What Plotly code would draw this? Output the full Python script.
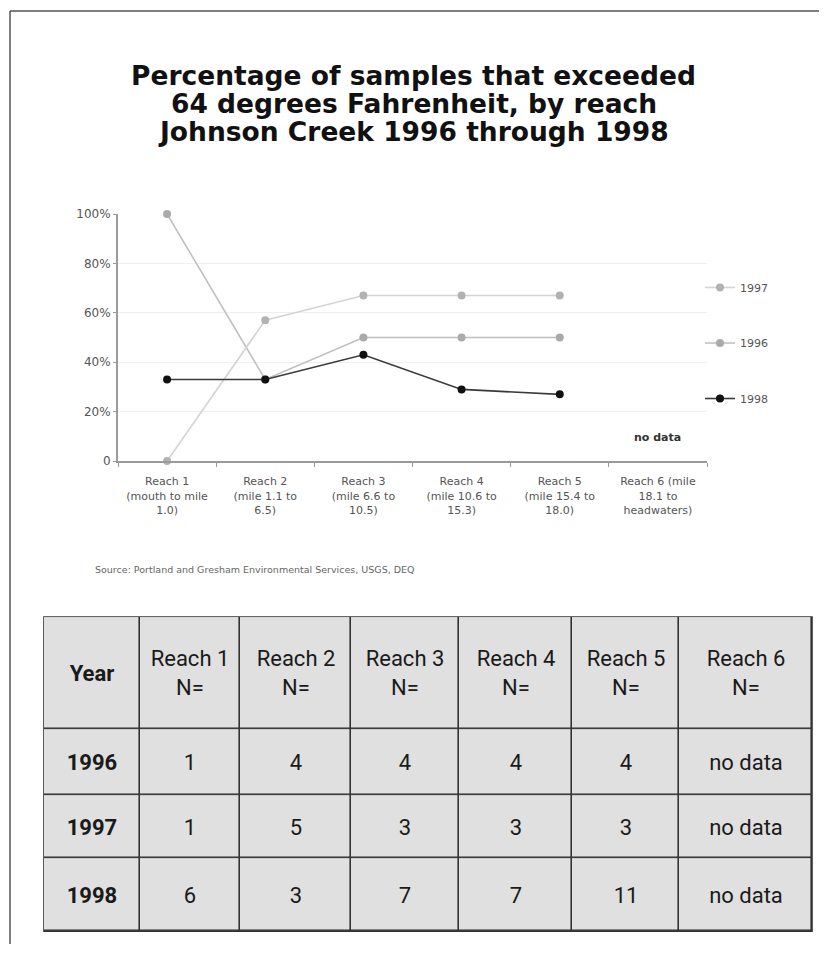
import plotly.graph_objects as go

# The page body has an 8px default margin, so the figure is sized to fit the
# 827x959 window and all positions below are given in window pixels.
WIN_W, WIN_H = 827, 959
OFF = 8
W, H = WIN_W - 2 * OFF, WIN_H - 2 * OFF
# measured vertical calibration of the captured page (scale, offset)
V_SCALE, V_SHIFT = 0.985, 6.15

# ---------------- data ----------------
reaches = [
    "Reach 1<br>(mouth to mile<br>1.0)",
    "Reach 2<br>(mile 1.1 to<br>6.5)",
    "Reach 3<br>(mile 6.6 to<br>10.5)",
    "Reach 4<br>(mile 10.6 to<br>15.3)",
    "Reach 5<br>(mile 15.4 to<br>18.0)",
    "Reach 6 (mile<br>18.1 to<br>headwaters)",
]
pct_1996 = [100, 33, 50, 50, 50, None]
pct_1997 = [0, 57, 67, 67, 67, None]
pct_1998 = [33, 33, 43, 29, 27, None]

y_ticks = [0, 20, 40, 60, 80, 100]
y_ticktext = ["0", "20%", "40%", "60%", "80%", "100%"]

table_header = ["Year", "Reach 1<br>N=", "Reach 2<br>N=", "Reach 3<br>N=",
                "Reach 4<br>N=", "Reach 5<br>N=", "Reach 6<br>N="]
years = ["1996", "1997", "1998"]
n_1996 = ["1", "4", "4", "4", "4", "no data"]
n_1997 = ["1", "5", "3", "3", "3", "no data"]
n_1998 = ["6", "3", "7", "7", "11", "no data"]

title_lines = ["Percentage of samples that exceeded",
               "64 degrees Fahrenheit, by reach",
               "Johnson Creek 1996 through 1998"]
source_text = "Source: Portland and Gresham Environmental Services, USGS, DEQ"

# ---------------- layout / style ----------------
col_widths = [96, 100, 111, 108, 113, 107, 133]   # table column widths (px)
row_heights = [112, 66, 63, 73]                    # header + 3 rows (px)
title_line_y = [75, 103, 131]                      # window px


def px_x(v):
    return (v - OFF) / W


def px_y(v):
    t = (v - V_SHIFT) / V_SCALE
    return 1 - (t - OFF) / H


fig = go.Figure()

series = [
    ("1996", pct_1996, "#c0c0c0", "#aaaaaa", 2),
    ("1997", pct_1997, "#d4d4d4", "#b2b2b2", 1),
    ("1998", pct_1998, "#3a3a3a", "#111111", 3),
]
for name, vals, lc, mc, rank in series:
    fig.add_trace(go.Scatter(
        x=reaches, y=vals, name=name, mode="lines+markers",
        line=dict(color=lc, width=1.6),
        marker=dict(color=mc, size=8, symbol="circle"),
        cliponaxis=False, legendgroup=name, legendrank=rank,
        xaxis="x", yaxis="y", hoverinfo="x+y+name",
    ))

# ---------------- table (cells drawn as heatmap bricks) ----------------
x_edges = [0]
for w in col_widths:
    x_edges.append(x_edges[-1] + w)
y_edges = [0]
for h in row_heights:
    y_edges.append(y_edges[-1] + h)

body_rows = [[("<b>%s</b>" % y)] + list(r) for y, r in zip(years, [n_1996, n_1997, n_1998])]
header_row = ["<b>%s</b>" % table_header[0]] + table_header[1:]
cell_text = [header_row] + body_rows
cell_fill = [[0 for _ in row] for row in cell_text]

fig.add_trace(go.Heatmap(
    x=x_edges, y=y_edges, z=cell_fill, text=cell_text, texttemplate="%{text}",
    textfont=dict(family="Roboto, Arial, sans-serif", size=22, color="#1a1a1a"),
    colorscale=[[0, "#e0e0e0"], [1, "#e0e0e0"]], showscale=False,
    xgap=1.6, ygap=1.6, hoverinfo="skip", xaxis="x2", yaxis="y2", showlegend=False,
))

tick_font = dict(family="DejaVu Sans, sans-serif", size=11, color="#555555")

annotations = []
for line, yy in zip(title_lines, title_line_y):
    annotations.append(dict(
        text="<b>" + line + "</b>", x=0.5, y=px_y(yy), xref="paper", yref="paper",
        xanchor="center", yanchor="middle", showarrow=False,
        font=dict(family="DejaVu Sans, sans-serif", size=26.5, color="#111111")))
annotations += [
    dict(text="<b>no data</b>", x=reaches[5], y=9.5, xref="x", yref="y",
         xanchor="center", yanchor="middle", showarrow=False,
         font=dict(family="DejaVu Sans, sans-serif", size=11, color="#333333")),
    dict(text=source_text, x=px_x(93), y=px_y(568), xref="paper", yref="paper",
         xanchor="left", yanchor="middle", showarrow=False,
         font=dict(family="DejaVu Sans, sans-serif", size=9.5, color="#666666")),
]

fig.update_layout(
    width=W, height=H,
    margin=dict(l=0, r=0, t=0, b=0),
    paper_bgcolor="white", plot_bgcolor="white",
    showlegend=True,
    legend=dict(x=px_x(700), xanchor="left", y=px_y(272), yanchor="top",
                tracegroupgap=36.5,
                font=dict(family="DejaVu Sans, sans-serif", size=11, color="#555555"),
                bgcolor="rgba(0,0,0,0)"),
    xaxis=dict(domain=[px_x(118), px_x(707)], type="category",
               categoryorder="array", categoryarray=reaches,
               range=[-0.5, 5.5], showline=True, linecolor="#9a9a9a", linewidth=2,
               ticks="outside", tickson="boundaries", ticklen=4, tickcolor="#9a9a9a",
               ticklabelstandoff=9,
               showgrid=False, tickfont=tick_font, fixedrange=True),
    yaxis=dict(domain=[px_y(460), px_y(213)], range=[0, 100],
               tickvals=y_ticks, ticktext=y_ticktext,
               showline=True, linecolor="#9a9a9a", linewidth=2,
               ticks="outside", ticklen=3, tickcolor="#9a9a9a",
               showgrid=True, gridcolor="#f0f0f0", gridwidth=1,
               zeroline=False, tickfont=dict(family="DejaVu Sans, sans-serif", size=12, color="#555555"),
               fixedrange=True),
    xaxis2=dict(domain=[px_x(44), px_x(812)], range=[x_edges[0], x_edges[-1]],
                visible=False, fixedrange=True, anchor="y2"),
    yaxis2=dict(domain=[px_y(930), px_y(616)], range=[y_edges[-1], y_edges[0]],
                visible=False, fixedrange=True, anchor="x2"),
    annotations=annotations,
    shapes=[
        dict(type="rect", xref="x2 domain", yref="y2 domain", x0=0, x1=1, y0=0, y1=1,
             layer="below", fillcolor="#333333", line=dict(color="#333333", width=1.6)),
        dict(type="line", xref="paper", yref="paper", x0=px_x(10), x1=1, y0=px_y(10), y1=px_y(10),
             line=dict(color="#555555", width=1.5)),
        dict(type="line", xref="paper", yref="paper", x0=px_x(10), x1=px_x(10), y0=px_y(10), y1=0,
             line=dict(color="#555555", width=1.5)),
    ],
)

fig.write_html("out.html")
